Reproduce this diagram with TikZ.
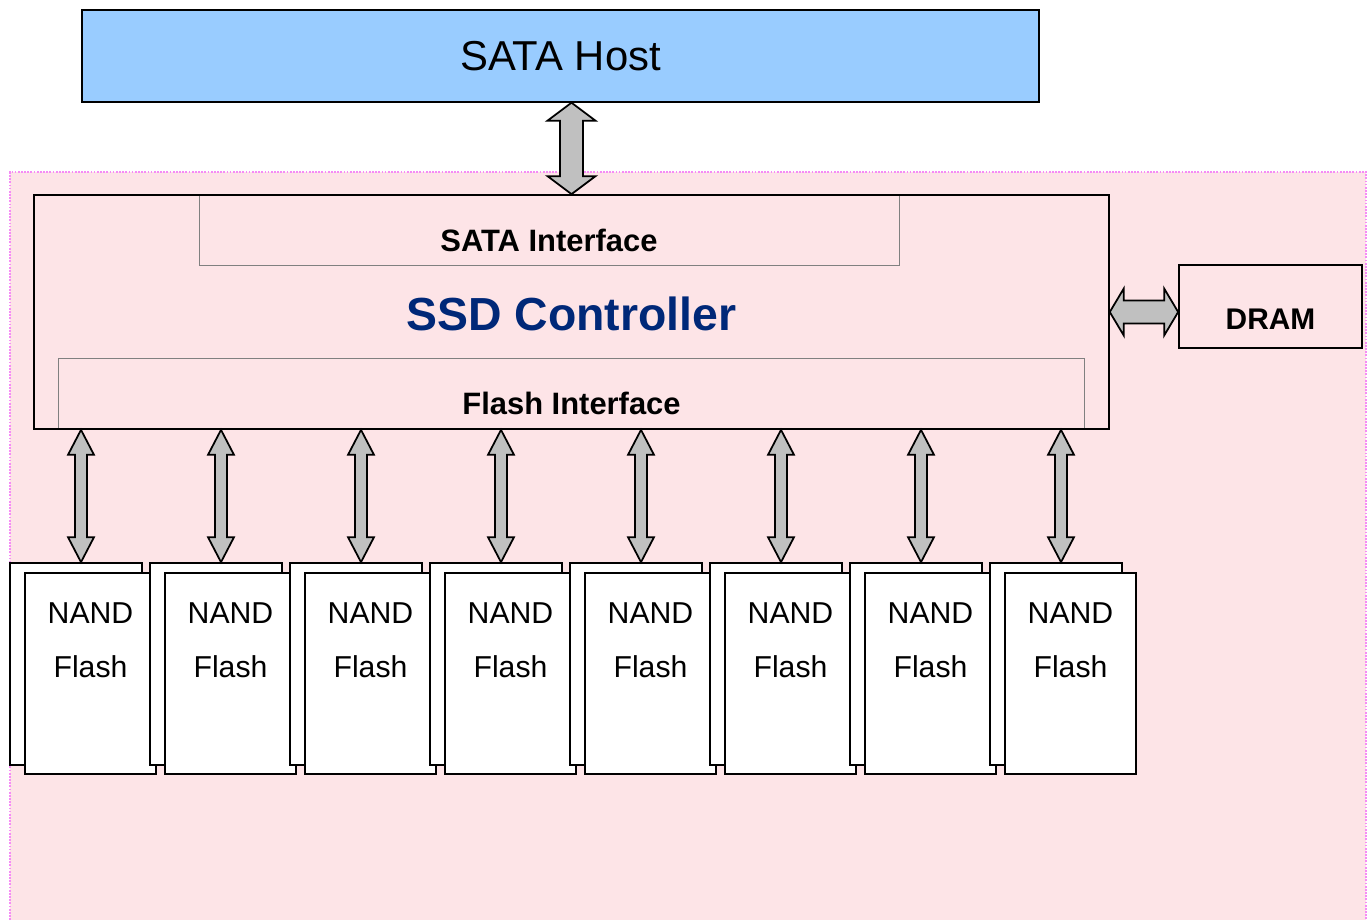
\documentclass[tikz,border=0pt]{standalone}
\usepackage{fontspec}
\setmainfont{Liberation Sans}
\usepackage{xcolor}
\usetikzlibrary{calc}

\definecolor{hostblue}{RGB}{153,204,255}
\definecolor{ctrlblue}{RGB}{0,40,120}
\definecolor{busgray}{RGB}{192,192,192}
\definecolor{bgpink}{RGB}{253,228,231}
\definecolor{edgepink}{RGB}{245,140,245}

\begin{document}
\begin{tikzpicture}[x=0.02cm, y=-0.02cm,
        box/.style={draw=black, line width=1pt, inner sep=0pt},
        ifbox/.style={draw=gray, line width=0.5pt, inner sep=0pt},
        chip/.style={draw=black, line width=1pt, fill=white, inner sep=0pt, minimum width=2.62cm, minimum height=4.02cm},
        bus/.style={draw=black, line width=1pt, fill=busgray, line join=miter},
        iftext/.style={font=\fontsize{17.6}{21}\selectfont\bfseries, anchor=base, inner sep=0pt},
        chiptext/.style={align=center, font=\fontsize{17.2}{30.6}\selectfont, anchor=base, inner sep=0pt}]
                \useasboundingbox (0,0) rectangle (1372,920);
                \def\vlink#1#2#3#4#5{
                    \path (#1) coordinate (lt) (#2) coordinate (lb);
                    \draw[bus] (lt) -- ($(lt)+(#3,#5)$) -- ($(lt)+(#4,#5)$) -- ($(lb)+(#4,-#5)$) -- ($(lb)+(#3,-#5)$) -- (lb)
                        -- ($(lb)+(-#3,-#5)$) -- ($(lb)+(-#4,-#5)$) -- ($(lt)+(-#4,#5)$) -- ($(lt)+(-#3,#5)$) -- cycle;
                }
                \def\hlink#1#2#3#4#5{
                    \path (#1) coordinate (ll) (#2) coordinate (lr);
                    \draw[bus] (ll) -- ($(ll)+(#5,-#3)$) -- ($(ll)+(#5,-#4)$) -- ($(lr)+(-#5,-#4)$) -- ($(lr)+(-#5,-#3)$) -- (lr)
                        -- ($(lr)+(-#5,#3)$) -- ($(lr)+(-#5,#4)$) -- ($(ll)+(#5,#4)$) -- ($(ll)+(#5,#3)$) -- cycle;
                }

                \fill[bgpink] (10,172) rectangle (1366,920);
                \draw[edgepink, line width=1.6pt, dash pattern=on 1pt off 0.8pt] (10,920) -- (10,172) -- (1366,172) -- (1366,920);

                \node[box, fill=hostblue, line width=0.8pt, minimum width=19.14cm, minimum height=1.84cm, font=\fontsize{23.8}{28}\selectfont] (host) at (560.5,56) {SATA Host};
                \node[ifbox, minimum width=14cm, minimum height=1.4cm] (sataif) at (549,230) {};
                \node[ifbox, minimum width=20.54cm, minimum height=1.42cm] (flashif) at (571.5,393.5) {};
                \node[box, minimum width=21.5cm, minimum height=4.68cm] (ctrl) at (571.5,312) {};
                \node[box, minimum width=3.66cm, minimum height=1.66cm] (dram) at (1270.5,306.5) {};

                \node[iftext] (sataiftext) at (549,251) {SATA Interface};
                \node[iftext, font=\fontsize{26.4}{30}\selectfont\bfseries, text=ctrlblue] (ctrltext) at (571.5,330) {SSD Controller};
                \node[iftext] (flashiftext) at (571.5,414) {Flash Interface};
                \node[iftext, font=\fontsize{17}{20}\selectfont\bfseries] (dramtext) at (1270.5,329) {DRAM};

                \vlink{host.south -| ctrl.north}{ctrl.north}{24}{11.5}{18}
                \hlink{ctrl.east}{dram.west |- ctrl.east}{23.5}{11.5}{14}

                \foreach \i [evaluate=\i as \xo using (\i-1)*140] in {1,...,8} {
                    \node[chip, minimum width=2.64cm, minimum height=4.04cm] (nb\i) at (76+\xo,664) {};
                    \node[chip] (nf\i) at (90.5+\xo,673.5) {};
                    \node[chiptext] (nt\i) at (90.5+\xo,677) {NAND\\Flash};
                    \coordinate (bb\i) at ([xshift=0.1cm]nb\i.north);
                    \vlink{ctrl.south -| bb\i}{bb\i}{13}{6}{25}
                }
\end{tikzpicture}
\end{document}
